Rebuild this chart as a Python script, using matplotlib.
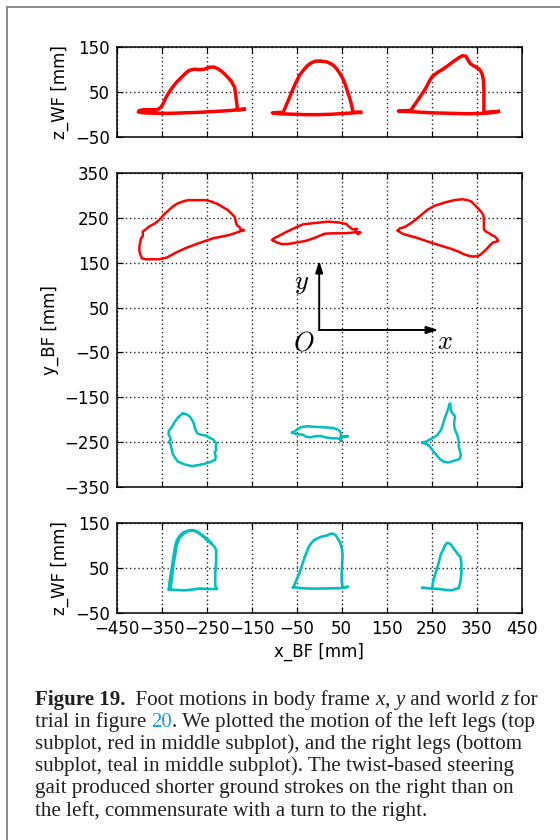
import matplotlib
matplotlib.use('Agg')
import matplotlib.pyplot as plt
from matplotlib.lines import Line2D

# ---- data (mm) ----
x_ticks = [-450, -350, -250, -150, -50, 50, 150, 250, 350, 450]
z_ticks = [-50, 50, 150]
y_ticks = [-350, -250, -150, -50, 50, 150, 250, 350]

# top subplot: left legs, x_BF vs z_WF
top_l1_x = [-167, -200, -235, -270, -300, -330, -360, -390, -402, -400, -390, -375, -360, -352, -346, -340, -333,
            -326, -318, -308, -300, -290, -278, -265, -255, -245, -235, -225, -215, -205, -196, -188, -186, -184,
            -182, -180, -167]
top_l1_z = [11, 8, 6, 4, 3, 2, 2, 3, 5, 8, 10, 10, 10, 15, 25, 38, 50,
            60, 70, 80, 88, 97, 100, 99, 100, 104, 105, 101, 94, 84, 74, 60, 45, 30,
            14, 10, 11]
top_l2_x = [92, 60, 30, 0, -30, -60, -90, -104, -90, -80, -76, -68, -60, -52, -44, -35, -27, -18, -8, 5, 18,
            30, 38, 45, 52, 58, 63, 68, 72, 75, 92]
top_l2_z = [4, 2, 0, -1, -1, 0, 1, 3, 4, 4, 14, 32, 52, 70, 86, 98, 107, 114, 118, 118, 116,
            110, 102, 92, 80, 66, 50, 35, 20, 5, 4]
top_l3_x = [398, 380, 366, 330, 290, 250, 215, 176, 190, 203, 208, 215, 223, 232, 238, 244, 250, 256, 265, 275,
            286, 298, 308, 318, 326, 331, 336, 346, 356, 362, 365, 366, 366, 366, 380, 398]
top_l3_z = [6, 3, 2, 1, 2, 3, 5, 7, 8, 8, 15, 25, 37, 50, 60, 72, 82, 88, 94, 100,
            108, 117, 124, 130, 129, 120, 112, 106, 100, 90, 75, 55, 30, 4, 5, 6]

# middle subplot: x_BF vs y_BF, left legs (red)
mid_l1_x = [-168, -200, -235, -270, -299, -320, -338, -355, -370, -385, -394, -398, -400, -399, -398, -396, -392,
            -392, -385, -378, -365, -354, -345, -334, -325, -314, -300, -291, -270, -251, -240, -227, -215, -203,
            -195, -188, -186, -184, -180, -177, -175, -168]
mid_l1_y = [223, 212, 205, 193, 182, 172, 162, 158, 158, 158, 160, 170, 179, 190, 194, 205, 209,
            220, 225, 231, 238, 247, 258, 268, 276, 283, 288, 290, 290, 290, 287, 282, 275, 268,
            260, 253, 245, 236, 232, 230, 225, 223]
mid_l2_x = [-104, -95, -84, -70, -52, -30, -12, 0, 12, 30, 52, 70, 84, 92, 86, 80, 84, 74, 70, 65, 60, 45, 20,
            0, -36, -50, -60, -75, -90, -100, -104]
mid_l2_y = [201, 196, 192, 192, 195, 199, 205, 210, 215, 216, 216, 217, 219, 218, 214, 222, 226, 225, 228, 232,
            237, 240, 242, 240, 236, 230, 225, 218, 210, 205, 201]
mid_l3_x = [175, 185, 195, 220, 243, 265, 291, 310, 322, 335, 342, 352, 358, 366, 374, 380, 386, 398, 394, 390,
            383, 378, 370, 366, 366, 366, 364, 360, 350, 338, 330, 318, 300, 280, 255, 240, 227, 215, 203, 190,
            179, 175]
mid_l3_y = [222, 215, 212, 205, 197, 190, 182, 175, 169, 165, 164, 165, 168, 175, 183, 190, 195, 199, 205, 209,
            212, 216, 220, 225, 235, 249, 258, 264, 275, 287, 290, 292, 290, 285, 277, 268, 257, 247, 238, 230,
            227, 222]

# middle subplot: right legs (teal)
mid_r1_x = [-303, -310, -315, -322, -327, -334, -335, -332, -330, -334, -330, -328, -326, -320, -314, -300, -283,
            -270, -255, -240, -231, -230, -232, -229, -230, -228, -233, -235, -245, -251, -262, -271, -276, -279,
            -283, -287, -295, -303]
mid_r1_y = [-186, -192, -197, -207, -216, -225, -232, -238, -245, -250, -256, -265, -276, -286, -294, -300, -304,
            -302, -299, -294, -290, -282, -274, -268, -260, -253, -248, -245, -240, -236, -234, -231, -220, -208,
            -200, -194, -188, -186]
mid_r2_x = [-60, -48, -40, -25, -12, 5, 20, 32, 40, 45, 48, 48, 48, 52, 64, 52, 48, 40, 28, 15, 4, -8, -20, -30,
            -36, -45, -52, -60]
mid_r2_y = [-229, -222, -217, -215, -216, -217, -218, -219, -222, -225, -229, -248, -238, -238, -237, -239, -244,
            -242, -242, -240, -237, -237, -240, -238, -234, -233, -232, -229]
mid_r3_x = [229, 240, 251, 262, 271, 275, 279, 283, 287, 289, 291, 292, 293, 296, 300, 302, 300, 300, 303, 307,
            310, 310, 313, 315, 312, 300, 287, 276, 267, 258, 250, 243, 236, 229]
mid_r3_y = [-252, -248, -242, -235, -223, -210, -197, -186, -175, -166, -164, -172, -180, -186, -190, -193, -205,
            -216, -226, -235, -248, -260, -272, -280, -288, -292, -296, -294, -287, -276, -266, -257, -254, -252]

# bottom subplot: right legs, x_BF vs z_WF
bot_r1_x = [-334, -320, -299, -280, -266, -248, -227, -231, -231, -229, -229, -233, -242, -251, -260, -271, -283,
            -293, -303, -310, -316, -320, -323, -326, -330, -333, -334, -330, -327, -324, -320, -317, -310, -300,
            -288, -275, -262, -250, -240]
bot_r1_z = [2, 1, 0, 2, 4, 3, 3, 10, 38, 65, 90, 98, 107, 114, 122, 131, 135,
            133, 129, 122, 113, 100, 82, 60, 36, 15, 2, 5, 30, 55, 80, 100, 118, 128,
            134, 133, 125, 116, 106]
bot_r2_x = [-58, -40, -20, 0, 28, 50, 64, 52, 50, 50, 51, 52, 50, 46, 40, 36, 30, 24, 18, 5, -5, -12, -18, -24,
            -28, -32, -37, -44, -52, -56, -58]
bot_r2_z = [7, 5, 4, 4, 4.5, 5, 8, 7, 20, 38, 60, 80, 95, 108, 118, 124, 127, 126, 123, 120, 116, 112, 105, 96,
            85, 75, 60, 38, 20, 10, 7]
bot_r3_x = [229, 240, 251, 267, 281, 295, 303, 310, 314, 316, 316, 314, 307, 303, 298, 293, 289, 284, 279, 275,
            270, 265, 260, 254, 251]
bot_r3_z = [6, 5, 4, 3, 1, 0, 3, 5, 20, 38, 60, 75, 82, 88, 95, 102, 105, 106, 100, 90,
            80, 60, 42, 25, 5]

left_x_top = [top_l1_x, top_l2_x, top_l3_x]
left_z_top = [top_l1_z, top_l2_z, top_l3_z]
left_x_mid = [mid_l1_x, mid_l2_x, mid_l3_x]
left_y_mid = [mid_l1_y, mid_l2_y, mid_l3_y]
right_x_mid = [mid_r1_x, mid_r2_x, mid_r3_x]
right_y_mid = [mid_r1_y, mid_r2_y, mid_r3_y]
right_x_bot = [bot_r1_x, bot_r2_x, bot_r3_x]
right_z_bot = [bot_r1_z, bot_r2_z, bot_r3_z]

RED = '#ff0000'
TEAL = '#00bfbf'

plt.rcParams['font.family'] = ['DejaVu Sans']
plt.rcParams['mathtext.fontset'] = 'cm'

W, H = 560.0, 840.0
fig = plt.figure(figsize=(W / 100, H / 100), dpi=100)
fig.patch.set_facecolor('white')


def box(l, t, r, b):
    return [l / W, 1 - b / H, (r - l) / W, (b - t) / H]


ax_top = fig.add_axes(box(116.7, 46.7, 521.7, 136.7))
ax_mid = fig.add_axes(box(116.7, 173.3, 521.7, 486.7))
ax_bot = fig.add_axes(box(116.7, 523.3, 521.7, 612.7))

for ax in (ax_top, ax_mid, ax_bot):
    ax.set_xlim(-450, 450)
    ax.set_xticks(x_ticks)
    ax.grid(True, linestyle=(0, (1, 2)), color='#222222', linewidth=1.0)
    ax.tick_params(direction='in', top=True, right=True, length=4, width=0.8, labelsize=12, pad=5)
    for s in ax.spines.values():
        s.set_linewidth(1.1)

for xs, zs in zip(left_x_top, left_z_top):
    ax_top.plot(xs, zs, color=RED, lw=2.5, solid_joinstyle='round')
for xs, ys in zip(left_x_mid, left_y_mid):
    ax_mid.plot(xs, ys, color=RED, lw=1.8, solid_joinstyle='round')
for xs, ys in zip(right_x_mid, right_y_mid):
    ax_mid.plot(xs, ys, color=TEAL, lw=1.8, solid_joinstyle='round')
for xs, zs in zip(right_x_bot, right_z_bot):
    ax_bot.plot(xs, zs, color=TEAL, lw=1.9, solid_joinstyle='round')

ax_top.set_ylim(-50, 150)
ax_top.set_yticks(z_ticks)
ax_top.tick_params(labelbottom=False)
ax_top.set_ylabel('z_WF [mm]', fontsize=12)

ax_mid.set_ylim(-350, 350)
ax_mid.set_yticks(y_ticks)
ax_mid.tick_params(labelbottom=False)
ax_mid.set_ylabel('y_BF [mm]', fontsize=12)

ax_bot.set_ylim(-50, 150)
ax_bot.set_yticks(z_ticks)
ax_bot.set_ylabel('z_WF [mm]', fontsize=12)
ax_bot.set_xlabel('x_BF [mm]', fontsize=12)

# body frame arrows
arw = dict(arrowstyle='-|>,head_length=0.7,head_width=0.22', color='k', lw=1.4, shrinkA=0, shrinkB=0)
ax_mid.annotate('', xy=(265, 0), xytext=(0, 0), arrowprops=arw)
ax_mid.annotate('', xy=(0, 155), xytext=(0, 0), arrowprops=arw)
ax_mid.text(-39, 104, '$y$', fontsize=19, ha='center', va='center')
ax_mid.text(-35, -30, '$O$', fontsize=19, ha='center', va='center')
ax_mid.text(280, -26, '$x$', fontsize=19, ha='center', va='center')

# page frame
fig.add_artist(Line2D([7 / W, 7 / W], [0, 1 - 7.3 / H], color='#8a8a8a', lw=1.4, transform=fig.transFigure))
fig.add_artist(Line2D([7 / W, 1], [1 - 7.3 / H, 1 - 7.3 / H], color='#8a8a8a', lw=1.4, transform=fig.transFigure))

# caption
renderer = fig.canvas.get_renderer()
CAP = dict(fontsize=15.1, family='Liberation Serif', color='#231f20')


def seg_width(s, kw):
    t = fig.text(0, 0, '|' + s + '|', **kw)
    w1 = t.get_window_extent(renderer).width
    t.remove()
    t = fig.text(0, 0, '||', **kw)
    w0 = t.get_window_extent(renderer).width
    t.remove()
    return w1 - w0


def caption_line(y, parts):
    x = 35.0
    for s, extra in parts:
        kw = dict(CAP)
        kw.update(extra)
        fig.text(x / W, 1 - y / H, s, va='baseline', ha='left', **kw)
        x += seg_width(s, kw)


it = dict(style='italic')
caption_line(705, [('Figure 19.', dict(weight='bold')), ('  Foot motions in body frame ', {}), ('x', it),
                   (', ', {}), ('y', it), (' and world ', {}), ('z', it), (' for', {})])
caption_line(727, [('trial in figure ', {}), ('20', dict(color='#1b9ad6')),
                   ('. We plotted the motion of the left legs (top', {})])
caption_line(749, [('subplot, red in middle subplot), and the right legs (bottom', {})])
caption_line(771, [('subplot, teal in middle subplot). The twist-based steering', {})])
caption_line(793, [('gait produced shorter ground strokes on the right than on', {})])
caption_line(816, [('the left, commensurate with a turn to the right.', {})])

fig.savefig('out.png', dpi=100)
